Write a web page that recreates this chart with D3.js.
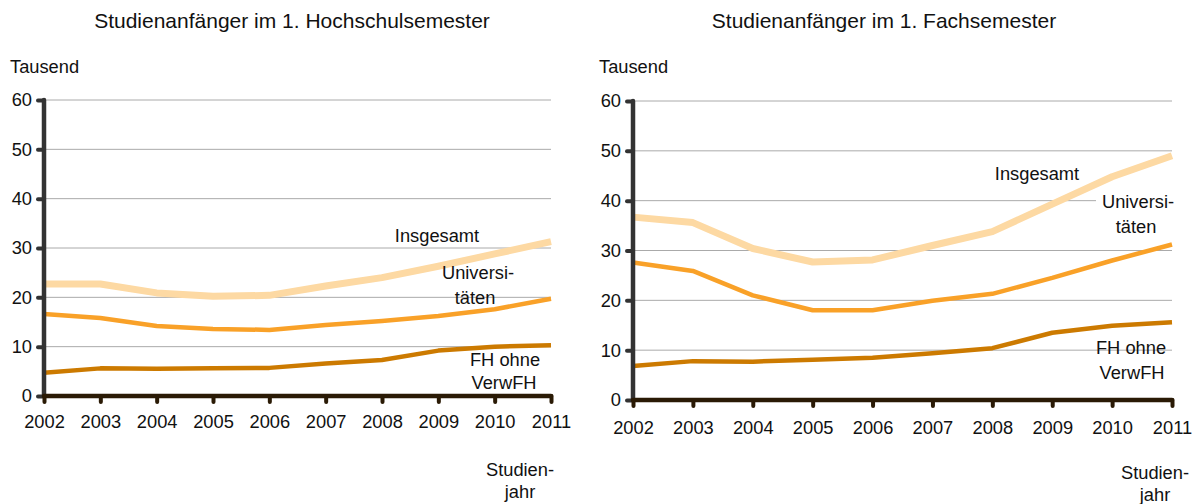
<html lang="de">
  <head>
    <meta charset="UTF-8" />
    <title>Studienanfänger</title>
    <script src="https://d3js.org/d3.v7.min.js"></script>
  </head>
  <style>
    body {
      margin: 0;
      background: #fff;
    }
    svg {
      font-family: "Liberation Sans", Arial, sans-serif;
    }
    text {
      fill: #111;
    }
    .grid line {
      stroke: #aaaaaa;
      stroke-width: 1px;
    }
  </style>
  <body>
    <svg width="1195" height="504"></svg>
    <script>
      var years = ["2002", "2003", "2004", "2005", "2006", "2007", "2008", "2009", "2010", "2011"];
      var yTicks = [0, 10, 20, 30, 40, 50, 60];

      // Studienanfänger im 1. Hochschulsemester
      var hsInsgesamt = [22.7, 22.7, 20.9, 20.2, 20.4, 22.3, 24.0, 26.3, 28.8, 31.3];
      var hsUni = [16.6, 15.8, 14.2, 13.6, 13.4, 14.4, 15.2, 16.2, 17.6, 19.7];
      var hsFH = [4.7, 5.6, 5.5, 5.6, 5.7, 6.6, 7.3, 9.2, 10.0, 10.3];

      // Studienanfänger im 1. Fachsemester
      var fsInsgesamt = [36.7, 35.6, 30.4, 27.7, 28.1, 31.0, 33.8, 39.3, 44.8, 49.0];
      var fsUni = [27.6, 25.9, 21.0, 18.0, 18.0, 19.9, 21.3, 24.5, 28.0, 31.2];
      var fsFH = [6.8, 7.8, 7.7, 8.1, 8.5, 9.4, 10.4, 13.5, 14.9, 15.6];

      var svg = d3.select("svg");
      var fs = "18.3px";

      function drawPanel(cfg) {
        var x = d3.scalePoint().domain(years).range([cfg.x0, cfg.x1]);
        var y = d3.scaleLinear().domain([0, 60]).range([cfg.y0, cfg.y1]);
        var g = svg.append("g");

        g.append("text")
          .attr("x", cfg.titleX)
          .attr("y", 28)
          .attr("text-anchor", "middle")
          .style("font-size", "21px")
          .text(cfg.title);

        g.append("text")
          .attr("x", cfg.x0 - 34)
          .attr("y", 73)
          .style("font-size", fs)
          .text("Tausend");

        // gridlines
        g.append("g")
          .attr("class", "grid")
          .selectAll("line")
          .data(yTicks.slice(1))
          .enter()
          .append("line")
          .attr("x1", cfg.x0)
          .attr("x2", cfg.x1)
          .attr("y1", function (d) { return y(d); })
          .attr("y2", function (d) { return y(d); });

        var series = [
          { values: cfg.fh, color: "#cc7a00", width: 4.5 },
          { values: cfg.uni, color: "#f9a128", width: 4.5 },
          { values: cfg.ins, color: "#fdd9a3", width: 7 }
        ];

        var line = d3.line()
          .x(function (d, i) { return x(years[i]); })
          .y(function (d) { return y(d); });

        g.selectAll("path.series")
          .data(series)
          .enter()
          .append("path")
          .attr("class", "series")
          .attr("d", function (d) { return line(d.values); })
          .style("fill", "none")
          .style("stroke", function (d) { return d.color; })
          .style("stroke-width", function (d) { return d.width; })
          .style("stroke-linejoin", "round");

        // labels
        if (cfg.uniBg) {
          g.append("rect")
            .attr("x", cfg.uniBg[0])
            .attr("y", cfg.uniBg[1])
            .attr("width", cfg.uniBg[2])
            .attr("height", cfg.uniBg[3])
            .style("fill", "#fff");
        }
        cfg.labels.forEach(function (l) {
          g.append("text")
            .attr("x", l[1])
            .attr("y", l[2])
            .attr("text-anchor", "middle")
            .style("font-size", fs)
            .text(l[0]);
        });

        // y axis
        var yAxis = g.append("g")
          .attr("transform", "translate(" + cfg.x0 + ",0)")
          .call(d3.axisLeft(y).tickValues(yTicks).tickSize(6).tickPadding(6));
        yAxis.select(".domain").remove();
        yAxis.selectAll(".tick line")
          .style("stroke", "#333")
          .style("stroke-width", 4)
          .style("stroke-linecap", "round");
        yAxis.selectAll(".tick text")
          .style("font-size", fs)
          .style("font-family", "Liberation Sans, Arial, sans-serif")
          .style("fill", "#111");
        g.append("line")
          .attr("x1", cfg.x0)
          .attr("x2", cfg.x0)
          .attr("y1", y(60))
          .attr("y2", y(0))
          .style("stroke", "#333")
          .style("stroke-width", 4.5)
          .style("stroke-linecap", "round");

        // x axis
        var xAxis = g.append("g")
          .attr("transform", "translate(0," + cfg.y0 + ")")
          .call(d3.axisBottom(x).tickSize(6).tickPadding(cfg.xPad));
        xAxis.select(".domain").remove();
        xAxis.selectAll(".tick line")
          .style("stroke", "#2a1a05")
          .style("stroke-width", 4)
          .style("stroke-linecap", "round");
        xAxis.selectAll(".tick text")
          .style("font-size", fs)
          .style("font-family", "Liberation Sans, Arial, sans-serif")
          .style("fill", "#111");
        g.append("line")
          .attr("x1", cfg.x0)
          .attr("x2", cfg.x1)
          .attr("y1", cfg.y0)
          .attr("y2", cfg.y0)
          .style("stroke", "#2a1a05")
          .style("stroke-width", 4.5)
          .style("stroke-linecap", "round");

        g.append("text")
          .attr("x", cfg.jahrX)
          .attr("y", cfg.jahrY)
          .attr("text-anchor", "middle")
          .style("font-size", fs)
          .text("Studien-");
        g.append("text")
          .attr("x", cfg.jahrX)
          .attr("y", cfg.jahrY + 22)
          .attr("text-anchor", "middle")
          .style("font-size", fs)
          .text("jahr");
      }

      drawPanel({
        title: "Studienanfänger im 1. Hochschulsemester",
        titleX: 292,
        x0: 44, x1: 551, y0: 396, y1: 100,
        xPad: 13,
        ins: hsInsgesamt, uni: hsUni, fh: hsFH,
        labels: [
          ["Insgesamt", 437, 242],
          ["Universi-", 478, 279],
          ["täten", 475, 304],
          ["FH ohne", 505, 366],
          ["VerwFH", 504, 389]
        ],
        jahrX: 520, jahrY: 476
      });

      drawPanel({
        title: "Studienanfänger im 1. Fachsemester",
        titleX: 884,
        x0: 633, x1: 1172, y0: 400, y1: 101,
        xPad: 15,
        ins: fsInsgesamt, uni: fsUni, fh: fsFH,
        uniBg: [1096, 188, 84, 46],
        labels: [
          ["Insgesamt", 1037, 180],
          ["Universi-", 1138, 208],
          ["täten", 1136, 233],
          ["FH ohne", 1131, 354],
          ["VerwFH", 1132, 379]
        ],
        jahrX: 1155, jahrY: 479
      });
    </script>
  </body>
</html>
